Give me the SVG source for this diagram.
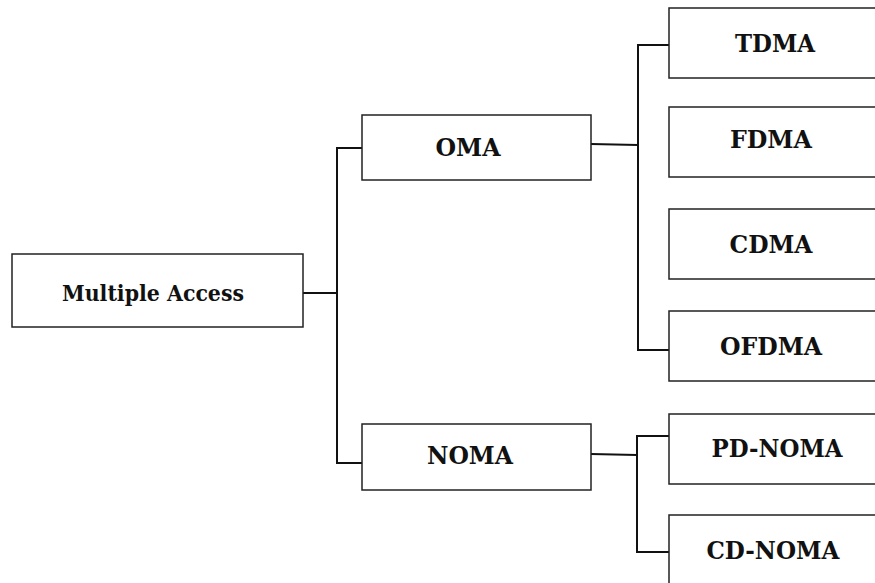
<svg xmlns="http://www.w3.org/2000/svg" width="875" height="583" viewBox="0 0 875 583">
  <style>
    .box { fill: #ffffff; stroke: #222222; stroke-width: 1.5; }
    .wire { fill: none; stroke: #111111; stroke-width: 2; }
    .label { font-family: "DejaVu Serif", "Liberation Serif", serif; font-weight: bold; font-size: 24px; fill: #111111; text-anchor: middle; }
    .lower { font-size: 22px; }
  </style>
  <rect width="875" height="583" fill="#ffffff"/>

  <!-- connectors -->
  <g id="connectors">
    <!-- root to level 1 -->
    <polyline class="wire" points="303,293 337,293"/>
    <polyline class="wire" points="362,148 337,148 337,463 362,463"/>
    <!-- OMA branch -->
    <polyline class="wire" points="591,144 638,145"/>
    <polyline class="wire" points="669,45 638,45 638,350 669,350"/>
    <!-- NOMA branch -->
    <polyline class="wire" points="591,454 637,455"/>
    <polyline class="wire" points="669,436 637,436 637,552 669,552"/>
  </g>

  <g id="multiple-access">
    <rect class="box" x="12" y="254" width="291" height="73"/>
    <text class="label lower" x="153" y="301" textLength="182" lengthAdjust="spacingAndGlyphs">Multiple Access</text>
  </g>

  <g id="oma">
    <rect class="box" x="362" y="115" width="229" height="65"/>
    <text class="label" x="468" y="156" textLength="65" lengthAdjust="spacingAndGlyphs">OMA</text>
  </g>

  <g id="noma">
    <rect class="box" x="362" y="424" width="229" height="66"/>
    <text class="label" x="470" y="464" textLength="86" lengthAdjust="spacingAndGlyphs">NOMA</text>
  </g>

  <g id="tdma">
    <rect class="box" x="669" y="8" width="220" height="70"/>
    <text class="label" x="775" y="52" textLength="80" lengthAdjust="spacingAndGlyphs">TDMA</text>
  </g>

  <g id="fdma">
    <rect class="box" x="669" y="107" width="220" height="70"/>
    <text class="label" x="771" y="148" textLength="82" lengthAdjust="spacingAndGlyphs">FDMA</text>
  </g>

  <g id="cdma">
    <rect class="box" x="669" y="209" width="220" height="70"/>
    <text class="label" x="771" y="253" textLength="83" lengthAdjust="spacingAndGlyphs">CDMA</text>
  </g>

  <g id="ofdma">
    <rect class="box" x="669" y="311" width="220" height="70"/>
    <text class="label" x="771" y="355" textLength="102" lengthAdjust="spacingAndGlyphs">OFDMA</text>
  </g>

  <g id="pd-noma">
    <rect class="box" x="669" y="414" width="220" height="70"/>
    <text class="label" x="777" y="457" textLength="131" lengthAdjust="spacingAndGlyphs">PD-NOMA</text>
  </g>

  <g id="cd-noma">
    <rect class="box" x="669" y="515" width="220" height="80"/>
    <text class="label" x="773" y="559" textLength="133" lengthAdjust="spacingAndGlyphs">CD-NOMA</text>
  </g>
</svg>
